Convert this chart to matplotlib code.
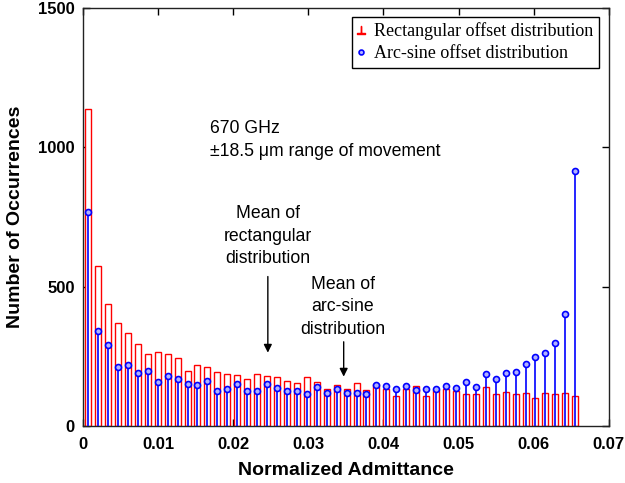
from matplotlib import pyplot as plt
from matplotlib.lines import Line2D
import numpy as np

# histogram of normalized admittance, 50 bins from 0 to ~0.066
bin_edges = np.linspace(0, 0.0662, 51)
bin_centers = (bin_edges[:-1] + bin_edges[1:]) / 2

rect_counts = [1138, 574, 439, 370, 335, 293, 257, 266, 257, 243,
               199, 218, 211, 192, 186, 183, 169, 185, 180, 177,
               163, 153, 176, 158, 133, 146, 131, 156, 129, 150,
               133, 107, 134, 143, 109, 128, 132, 126, 116, 116,
               139, 113, 122, 113, 120, 100, 120, 113, 120, 109]

arcsine_counts = [766, 342, 290, 212, 219, 191, 198, 157, 181, 168,
                  152, 147, 161, 125, 134, 149, 127, 127, 149, 137,
                  127, 125, 116, 141, 119, 134, 119, 119, 115, 147,
                  145, 132, 145, 128, 134, 131, 145, 138, 157, 140,
                  187, 170, 191, 194, 222, 246, 261, 297, 402, 916]

x_ticks = [0, 0.01, 0.02, 0.03, 0.04, 0.05, 0.06, 0.07]
x_tick_labels = ['0', '0.01', '0.02', '0.03', '0.04', '0.05', '0.06', '0.07']
y_ticks = [0, 500, 1000, 1500]

sans = 'Liberation Sans'

fig = plt.figure(figsize=(6.25, 4.83), dpi=100)
ax = fig.add_axes([0.133, 0.118, 0.841, 0.866])

ax.bar(bin_centers, rect_counts, width=0.0008, facecolor='white',
       edgecolor='#ff0000', linewidth=1.0, zorder=2)
ax.vlines(bin_centers, 0, arcsine_counts, color='#0000ff', linewidth=1.2, zorder=3)
ax.plot(bin_centers, arcsine_counts, linestyle='none', marker='o', markersize=4.3,
        markerfacecolor='#b0b0ff', markeredgecolor='#0000ff', markeredgewidth=1.2, zorder=4)

ax.set_xlim(0, 0.07)
ax.set_ylim(0, 1500)
ax.set_xticks(x_ticks)
ax.set_xticklabels(x_tick_labels)
ax.set_yticks(y_ticks)
ax.tick_params(direction='in', top=True, right=True, length=5, width=1,
               labelsize=12)
ax.tick_params(axis='x', pad=8)
ax.tick_params(axis='y', pad=6)
for lab in ax.get_xticklabels() + ax.get_yticklabels():
    lab.set_fontfamily(sans)
    lab.set_fontweight('bold')
for sp in ax.spines.values():
    sp.set_linewidth(1.0)
    sp.set_color('#222222')

ax.set_xlabel('Normalized Admittance', fontsize=14, fontweight='bold',
              family=sans, labelpad=7)
ax.set_ylabel('Number of Occurrences', fontsize=14, fontweight='bold',
              family=sans, labelpad=10)

ax.text(0.0169, 1067, '670 GHz', fontsize=12.7, family=sans, va='center', ha='left')
ax.text(0.0169, 983, '±18.5 μm range of movement', fontsize=12.7, family=sans,
        va='center', ha='left')

ax.text(0.0246, 680, 'Mean of\nrectangular\ndistribution', fontsize=12.7, family=sans,
        ha='center', va='center', linespacing=1.42)
ax.annotate('', xy=(0.0246, 263), xytext=(0.0246, 536),
            arrowprops=dict(arrowstyle='-|>', color='black', lw=1.0,
                            mutation_scale=12, shrinkA=0, shrinkB=0))

ax.text(0.03455, 428, 'Mean of\narc-sine\ndistribution', fontsize=12.7, family=sans,
        ha='center', va='center', linespacing=1.42)
ax.annotate('', xy=(0.0347, 177), xytext=(0.0347, 302),
            arrowprops=dict(arrowstyle='-|>', color='black', lw=1.0,
                            mutation_scale=12, shrinkA=0, shrinkB=0))

handles = [
    Line2D([], [], color='#ff0000', marker=r'$\perp$', linestyle='none', markersize=6),
    Line2D([], [], color='#0000ff', marker='o', linestyle='none', markersize=3.5,
           markerfacecolor='#b0b0ff', markeredgewidth=1.2),
]
leg = ax.legend(handles, ['Rectangular offset distribution', 'Arc-sine offset distribution'],
                loc='upper right', bbox_to_anchor=(0.981, 0.978), borderaxespad=0,
                prop={'family': 'Liberation Serif', 'size': 13}, fancybox=False,
                framealpha=1, edgecolor='black', handlelength=0.4, handletextpad=0.55,
                borderpad=0.3, labelspacing=0.28)
leg.get_frame().set_linewidth(1.0)

fig.savefig('out.png', dpi=100)
